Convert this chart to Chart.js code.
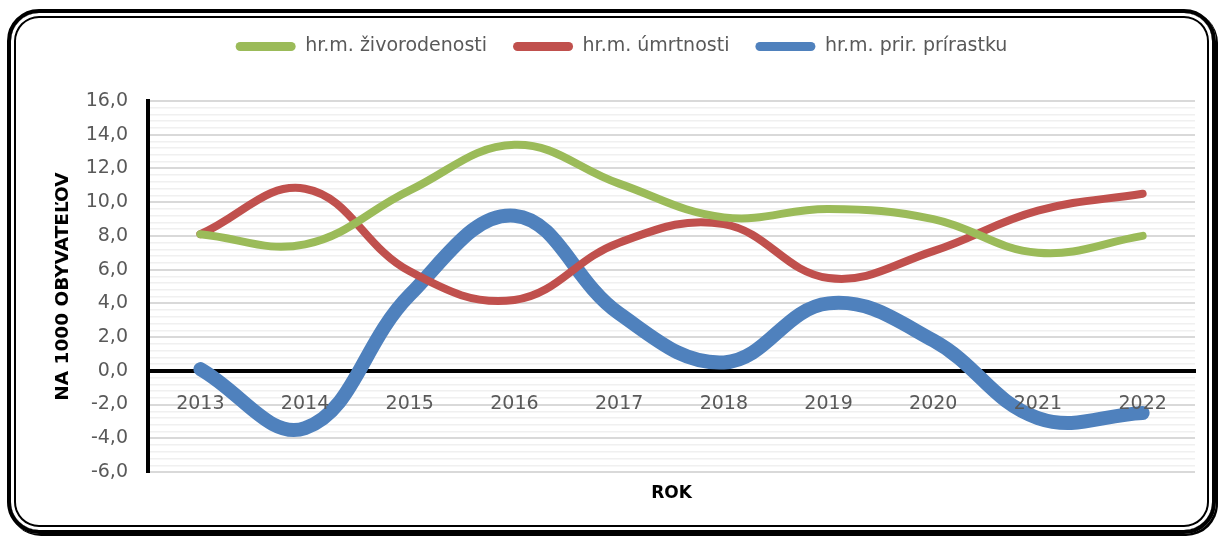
<!DOCTYPE html>
<html>
<head>
<meta charset="utf-8">
<script src="https://cdn.jsdelivr.net/npm/chart.js@4/dist/chart.umd.min.js"></script>
<style>
  body { margin: 0; background: #fff; }
  #wrap { position: relative; width: 1223px; height: 541px; overflow: hidden; }
  #frame {
    position: absolute; left: 7px; top: 9px; width: 1201px; height: 517px;
    border: 4px solid #000; border-radius: 32px;
    box-shadow: inset 0 0 0 3px #fff, inset 0 0 0 5px #000, 2px 2px 0 #000;
  }
  #chart { position: absolute; left: 0; top: 0; }
</style>
</head>
<body>
<div id="wrap">
  <div id="frame"></div>
  <canvas id="chart" width="1223" height="541"></canvas>
</div>
<script>
const years = ['2013','2014','2015','2016','2017','2018','2019','2020','2021','2022'];
const zivorodenost = [8.1, 7.5, 10.7, 13.4, 11.1, 9.1, 9.6, 9.0, 7.0, 8.0];
const umrtnost = [8.1, 10.8, 5.9, 4.2, 7.6, 8.7, 5.5, 7.1, 9.5, 10.5];
const prirastok = [0.1, -3.4, 4.5, 9.2, 3.4, 0.5, 4.0, 1.8, -2.8, -2.5];
const yMin = -6, yMax = 16, yMajor = 2, yMinor = 0.4;

const gray = '#595959';
const fontFam = 'DejaVu Sans';
const isMajor = v => Math.abs(v / yMajor - Math.round(v / yMajor)) < 1e-6;

const ctx = document.getElementById('chart');
new Chart(ctx, {
  type: 'line',
  data: {
    labels: years,
    datasets: [
      { label: 'hr.m. živorodenosti', data: zivorodenost, borderColor: '#9BBB59', backgroundColor: '#9BBB59', borderWidth: 8 },
      { label: 'hr.m. úmrtnosti', data: umrtnost, borderColor: '#C0504D', backgroundColor: '#C0504D', borderWidth: 8 },
      { label: 'hr.m. prir. prírastku', data: prirastok, borderColor: '#4F81BD', backgroundColor: '#4F81BD', borderWidth: 14 }
    ]
  },
  options: {
    responsive: false,
    animation: false,
    layout: { padding: { left: 48, right: 28, top: 11, bottom: 19 } },
    elements: {
      line: { tension: 0.4, borderCapStyle: 'round', borderJoinStyle: 'round', fill: false },
      point: { radius: 0, hoverRadius: 0 }
    },
    plugins: {
      legend: {
        position: 'top',
        labels: {
          boxWidth: 60, boxHeight: 9, useBorderRadius: true, borderRadius: 4.5,
          padding: 26, color: gray,
          font: { family: fontFam, size: 19 },
          generateLabels: chart => Chart.defaults.plugins.legend.labels.generateLabels(chart)
            .map(l => Object.assign(l, { lineWidth: 0 }))
        }
      },
      tooltip: { enabled: false }
    },
    scales: {
      x: {
        offset: true,
        position: { y: 0 },
        grid: { display: false, drawTicks: false },
        border: { display: true, color: '#000', width: 4 },
        ticks: { color: gray, padding: 22, z: 1, font: { family: fontFam, size: 19 } }
      },
      x2: {
        type: 'category',
        position: 'bottom',
        grid: { display: false, drawTicks: false },
        border: { display: false },
        ticks: { display: false },
        title: { display: true, text: 'ROK', color: '#000', padding: { top: 0, bottom: 18 },
                 font: { family: fontFam, size: 17, weight: 'bold' } },
        afterFit: s => { s.height = 50; }
      },
      // spacer between legend and plot
      xTop: {
        type: 'category',
        position: 'top',
        grid: { display: false, drawTicks: false },
        border: { display: false },
        ticks: { display: false },
        afterFit: s => { s.height = 35; }
      },
      y: {
        min: yMin, max: yMax,
        grid: {
          drawTicks: false,
          color: c => c.tick && isMajor(c.tick.value) ? '#d9d9d9' : '#f0f0f0',
          lineWidth: c => c.tick && isMajor(c.tick.value) ? 2 : 1.5
        },
        border: { display: true, color: '#000', width: 4 },
        ticks: {
          stepSize: yMinor, autoSkip: false, padding: 20, color: gray,
          font: { family: fontFam, size: 19 },
          callback: v => isMajor(v) ? v.toFixed(1).replace('.', ',') : ''
        },
        title: { display: true, text: 'NA 1000 OBYVATEĽOV', color: '#000',
                 font: { family: fontFam, size: 18.5, weight: 'bold' } },
        afterFit: s => { s.width = 100; }
      }
    }
  }
});
</script>
</body>
</html>
